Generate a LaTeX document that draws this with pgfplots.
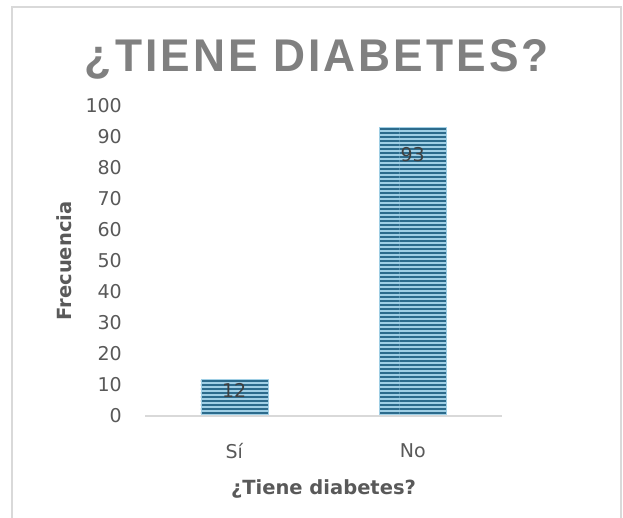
\documentclass[border=0pt]{standalone}
\usepackage{fontspec}
\setmainfont{DejaVu Sans}
\newfontfamily\titlefont{Liberation Sans}[LetterSpace=7.0]
\usepackage{pgfplots}
\pgfplotsset{compat=1.18}
\usetikzlibrary{patterns}

\definecolor{framegray}{HTML}{D9D9D9}
\definecolor{titlegray}{HTML}{808080}
\definecolor{tickgray}{HTML}{595959}
\definecolor{labelgray}{HTML}{595959}
\definecolor{valgray}{HTML}{404040}
\definecolor{barlight}{HTML}{A0CFE5}
\definecolor{bardark}{HTML}{2C6B8C}

% wide horizontal stripes: one tile spans far wider than a bar
\pgfdeclarepatternformonly{hstripes}{\pgfpointorigin}{\pgfqpoint{200pt}{4pt}}{\pgfqpoint{200pt}{4pt}}{%
  \pgfpathrectangle{\pgfpointorigin}{\pgfqpoint{200pt}{2.2pt}}%
  \pgfusepath{fill}}

\begin{document}
\begin{tikzpicture}[x=1pt,y=1pt]
  \useasboundingbox (0,0) rectangle (623,517);
  \clip (0,0) rectangle (623,517);
  \fill[white] (0,0) rectangle (623,517);
  % chart area frame
  \draw[framegray, line width=2pt] (12,-10) rectangle (621,510);
  % title
  \node[anchor=base, inner sep=0pt, text=titlegray] at (317,445)
    {\resizebox{464pt}{32pt}{\titlefont\bfseries ¿TIENE DIABETES?}};

  \begin{axis}[
    at={(145pt,101pt)}, anchor=south west,
    scale only axis, width=357pt, height=310pt,
    xmin=-0.5, xmax=1.5, ymin=0, ymax=100,
    ytick={0,10,...,100},
    xtick={0,1}, xticklabels={Sí,No},
    axis x line*=bottom, axis y line*=left,
    x axis line style={draw=framegray, line width=2.5pt},
    y axis line style={draw=none},
    major tick length=0pt, tick style={draw=none},
    axis on top,
    /pgf/number format/assume math mode=true,
    ticklabel style={font=\fontsize{19}{21}\selectfont, text=tickgray},
    yticklabel style={anchor=east, inner sep=0pt, xshift=-23pt},
    xticklabel style={anchor=north, inner sep=0pt, yshift=-27pt},
    xlabel={¿Tiene diabetes?},
    xlabel style={at={(axis description cs:0.5,0)}, anchor=base, inner sep=0pt,
      yshift=-78pt, font=\bfseries\fontsize{19.5}{22}\selectfont, text=labelgray},
    ylabel={Frecuencia},
    ylabel style={at={(axis description cs:-0.2045,0.5)}, anchor=base, inner sep=0pt,
      font=\bfseries\fontsize{19.5}{22}\selectfont, text=labelgray},
    ybar, bar width=67pt,
    clip=false,
    every node near coord/.append style={font=\fontsize{19}{21}\selectfont, text=valgray, anchor=center},
  ]
    \addplot[bar shift=0pt, fill=barlight, draw=barlight,
      postaction={pattern=hstripes, pattern color=bardark},
      nodes near coords, nodes near coords style={yshift=-12pt}]
      coordinates {(0,12)};
    \addplot[bar shift=0pt, fill=barlight, draw=barlight,
      postaction={pattern=hstripes, pattern color=bardark},
      nodes near coords, nodes near coords style={yshift=-27pt}]
      coordinates {(1,93)};
  \end{axis}
\end{tikzpicture}
\end{document}
